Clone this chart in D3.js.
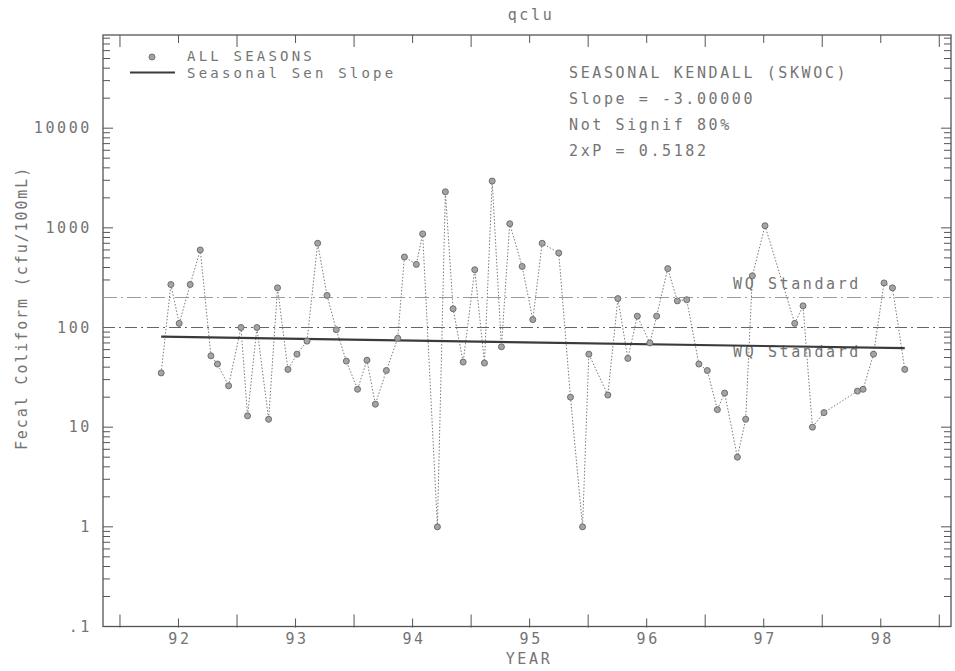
<!DOCTYPE html>
<html>
<head>
<meta charset="utf-8">
<script src="https://cdn.jsdelivr.net/npm/d3@7"></script>
<style>
body{margin:0;background:#fff;}
text{font-family:"DejaVu Sans Mono",monospace;font-size:15px;fill:#747474;letter-spacing:2.6px;}
</style>
</head>
<body>
<svg class="chart"></svg>
<script>

// sample dates (decimal year, label "92" = 1992) and fecal coliform counts
var years = [91.852,91.935,92.006,92.10,92.186,92.277,92.333,92.428,92.534,92.59,
             92.67,92.77,92.846,92.935,93.012,93.098,93.189,93.269,93.348,93.434,
             93.53,93.61,93.682,93.776,93.873,93.93,94.032,94.086,94.212,94.28,
             94.346,94.432,94.531,94.614,94.68,94.759,94.83,94.936,95.027,95.107,
             95.249,95.349,95.452,95.506,95.668,95.754,95.839,95.92,96.027,96.085,
             96.18,96.262,96.342,96.446,96.518,96.604,96.666,96.775,96.846,96.903,
             97.011,97.265,97.336,97.416,97.515,97.801,97.849,97.938,98.028,98.10,
             98.205];
var fecal = [35,270,110,270,600,52,43,26,100,13,
             100,12,250,38,54,73,700,210,95,46,
             24,47,17,37,78,510,430,870,1,2300,
             154,45,380,44,2950,64,1100,410,120,700,
             560,20,1,54,21,195,49,130,70,130,
             390,185,190,43,37,15,22,5,12,330,
             1050,110,165,10,14,23,24,54,280,250,
             38];

// seasonal sen slope line end points
var senYears = [91.852,98.205];
var senValues = [81,62];

// water quality standards
var standards = [200,100];
var standardNames = ['WQ Standard','WQ Standard'];

var yTicks = [0.1,1,10,100,1000,10000];
var yTickLabels = ['.1','1','10','100','1000','10000'];
var xTicks = [92,93,94,95,96,97,98];
var xTickLabels = ['92','93','94','95','96','97','98'];
var xBounds = [91.5,92.5,93.5,94.5,95.5,96.5,97.5,98.5];

var statsLines = ['SEASONAL KENDALL (SKWOC)','Slope = -3.00000','Not Signif 80%','2xP = 0.5182'];
var legendNames = ['ALL SEASONS','Seasonal Sen Slope'];

var svgwidth = 955;
var svgheight = 671;

var margins = {top:35,bottom:44.5,left:103,right:4};

var svg = d3.select('.chart').attr('width',svgwidth).attr('height',svgheight);

var xscale = d3.scaleLinear().domain([91.355,98.6]).range([margins.left,svgwidth-margins.right]);
var yscale = d3.scaleLog().domain([0.1,Math.pow(10,4.935)]).range([svgheight-margins.bottom,margins.top]);

var x0 = xscale.range()[0], x1 = xscale.range()[1];
var ytop = yscale.range()[1], ybot = yscale.range()[0];

var axcol = '#555';

// frame
svg.append('rect')
   .attr('x',x0).attr('y',ytop)
   .attr('width',x1-x0).attr('height',ybot-ytop)
   .attr('fill','none').attr('stroke',axcol).attr('stroke-width',1.3);

// log ticks on left and right
var logticks = [];
for (var d = -1; d <= 4; d++) {
  for (var k = 1; k <= 9; k++) {
    var v = k*Math.pow(10,d);
    if (v <= yscale.domain()[1]) logticks.push({v:v,major:k==1});
  }
}

svg.selectAll('.lt').data(logticks).enter().append('line')
   .attr('x1',x0).attr('x2',function(d){return x0+(d.major?10:7);})
   .attr('y1',function(d){return yscale(d.v);}).attr('y2',function(d){return yscale(d.v);})
   .attr('stroke',axcol).attr('stroke-width',1);

svg.selectAll('.rt').data(logticks).enter().append('line')
   .attr('x1',x1).attr('x2',function(d){return x1-(d.major?10:7);})
   .attr('y1',function(d){return yscale(d.v);}).attr('y2',function(d){return yscale(d.v);})
   .attr('stroke',axcol).attr('stroke-width',1);

// x ticks top and bottom
var xt = xBounds.map(function(d){return {v:d,len:12};})
          .concat(xTicks.map(function(d){return {v:d,len:8};}));

svg.selectAll('.bt').data(xt).enter().append('line')
   .attr('x1',function(d){return xscale(d.v);}).attr('x2',function(d){return xscale(d.v);})
   .attr('y1',ybot+1).attr('y2',function(d){return ybot-d.len;})
   .attr('stroke',axcol).attr('stroke-width',1);

svg.selectAll('.tt').data(xt).enter().append('line')
   .attr('x1',function(d){return xscale(d.v);}).attr('x2',function(d){return xscale(d.v);})
   .attr('y1',ytop).attr('y2',function(d){return ytop+d.len;})
   .attr('stroke',axcol).attr('stroke-width',1);

// tick labels
svg.selectAll('.ylab').data(yTicks).enter().append('text')
   .attr('x',92).attr('y',function(d){return yscale(d);})
   .attr('text-anchor','end').attr('dominant-baseline','central')
   .text(function(d,i){return yTickLabels[i];});

svg.selectAll('.xlab').data(xTicks).enter().append('text')
   .attr('x',function(d){return xscale(d)+1.5;}).attr('y',639)
   .attr('text-anchor','middle').attr('dominant-baseline','central')
   .text(function(d,i){return xTickLabels[i];});

svg.append('text').attr('x',529).attr('y',659)
   .attr('text-anchor','middle').attr('dominant-baseline','central')
   .text('YEAR');

svg.append('text')
   .attr('transform','translate(22,308) rotate(-90)')
   .attr('text-anchor','middle').attr('dominant-baseline','central')
   .style('letter-spacing','1.9px')
   .text('Fecal Coliform (cfu/100mL)');

svg.append('text').attr('x',531).attr('y',15)
   .attr('text-anchor','middle').attr('dominant-baseline','central')
   .text('qclu');

// standards
var stdstyle = [{c:'#9a9a9a',dash:'14,4,2,4'},{c:'#666',dash:'12,4,2,4'}];
svg.selectAll('.std').data(standards).enter().append('line')
   .attr('x1',x0).attr('x2',x1)
   .attr('y1',function(d){return yscale(d);}).attr('y2',function(d){return yscale(d);})
   .attr('stroke',function(d,i){return stdstyle[i].c;})
   .style('stroke-dasharray',function(d,i){return stdstyle[i].dash;})
   .attr('stroke-width',1.2);

svg.selectAll('.stdname').data(standards).enter().append('text')
   .attr('x',733)
   .attr('y',function(d,i){return i==0 ? yscale(d)-14 : yscale(d)+24;})
   .attr('dominant-baseline','central')
   .text(function(d,i){return standardNames[i];});

// series
var pts = years.map(function(d,i){return {x:d,y:fecal[i]};});
var linegen = d3.line().x(function(d){return xscale(d.x);}).y(function(d){return yscale(d.y);});

svg.append('path').attr('d',linegen(pts))
   .attr('fill','none').attr('stroke','#7a7a7a').attr('stroke-width',1)
   .style('stroke-dasharray','1.5,1.8');

var senpts = senYears.map(function(d,i){return {x:d,y:senValues[i]};});
svg.append('path').attr('d',linegen(senpts))
   .attr('fill','none').attr('stroke','#3a3a3a').attr('stroke-width',2.2);

svg.selectAll('.pt').data(pts).enter().append('circle')
   .attr('cx',function(d){return xscale(d.x);})
   .attr('cy',function(d){return yscale(d.y);})
   .attr('r',3)
   .attr('fill','#a4a4a4').attr('stroke','#6e6e6e').attr('stroke-width',1);

// legend
svg.append('circle').attr('cx',152).attr('cy',57).attr('r',3)
   .attr('fill','#a4a4a4').attr('stroke','#6e6e6e').attr('stroke-width',1);
svg.append('line').attr('x1',130).attr('x2',175).attr('y1',72.5).attr('y2',72.5)
   .attr('stroke','#3a3a3a').attr('stroke-width',2.2);
svg.selectAll('.leg').data(legendNames).enter().append('text')
   .attr('x',187).attr('y',function(d,i){return 56+i*17;})
   .attr('dominant-baseline','central')
   .style('font-size','14px').style('letter-spacing','3.2px')
   .text(function(d){return d;});

// stats block
svg.selectAll('.stat').data(statsLines).enter().append('text')
   .attr('x',569).attr('y',function(d,i){return 73+i*26;})
   .attr('dominant-baseline','central')
   .text(function(d){return d;});

</script>
</body>
</html>
